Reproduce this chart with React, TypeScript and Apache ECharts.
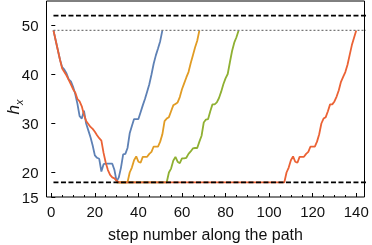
import { useEffect, useRef } from 'react';
import * as echarts from 'echarts';

// step number -> h_x
const bluePath: [number, number][] = [
  [1, 49], [2, 47], [3, 45], [4, 43], [5, 41.5], [6, 41], [7, 40.2], [8, 39], [9, 38.6], [10, 37.5],
  [11, 36], [12, 34], [13, 31.5], [14, 31], [15, 32.6], [16, 30], [17, 28.6], [18, 27.2], [19, 25.5], [20, 23.5],
  [21, 23], [22, 22.8], [23, 20.2], [24, 21.7], [25, 21.8], [26, 21.8], [27, 21.8], [28, 21.8], [29, 20.5], [30, 18.2],
  [31, 19], [32, 21], [33, 23.7], [34, 23.8], [35, 25], [36, 28], [37, 29.5], [38, 30.9], [39, 30.9], [40, 30.9],
  [41, 32.3], [42, 33.7], [43, 35], [44, 36.5], [45, 38], [46, 40], [47, 42.2], [48, 43.9], [49, 45.3], [50, 46.8], [51, 49],
];

const orangePath: [number, number][] = [
  [30, 18], [35, 18], [36, 20], [37, 21], [38, 22.5], [39, 23.3], [40, 22.2], [41, 22], [42, 23.2], [43, 23.2],
  [44, 23.2], [45, 23.8], [46, 24.2], [47, 25.3], [48, 25.3], [49, 25.3], [50, 26.3], [51, 27.8], [52, 30.5], [53, 31],
  [54, 31.3], [55, 32.5], [56, 33.7], [57, 34], [58, 34.3], [59, 35.4], [60, 37], [61, 38.2], [62, 39.4], [63, 40.5],
  [64, 42.3], [65, 43.9], [66, 45.5], [67, 46.9], [68, 49],
];

const greenPath: [number, number][] = [
  [30, 18], [53, 18], [54, 20], [55, 20.8], [56, 22.4], [57, 23.2], [58, 22.2], [59, 21.9], [60, 22.9], [61, 22.9],
  [62, 23], [63, 23.8], [64, 24.3], [65, 24.9], [66, 25], [67, 25], [68, 26.3], [69, 27.5], [70, 30.2], [71, 30.8],
  [72, 30.9], [73, 32.5], [74, 33.9], [75, 33.9], [76, 34.3], [77, 35.2], [78, 36.5], [79, 38], [80, 39.2], [81, 40.1],
  [82, 42.5], [83, 44.8], [84, 46.5], [85, 47.6], [86, 49],
];

const redPath: [number, number][] = [
  [1, 49], [2, 47], [3, 45], [4, 43], [5, 41.2], [6, 40.5], [7, 39.8], [8, 38.9], [9, 38], [10, 37],
  [11, 36.3], [12, 35], [13, 34.5], [14, 33.5], [15, 31.8], [16, 30.5], [17, 29.9], [18, 29.3], [19, 28.9], [20, 28.3],
  [21, 27.6], [22, 27], [23, 26.5], [24, 24], [25, 22], [26, 20.5], [27, 19.5], [28, 19], [29, 18.8], [30, 18.3],
  [31, 18], [107, 18], [108, 20], [109, 21], [110, 22.5], [111, 23.3], [112, 22.2], [113, 22], [114, 23.2], [115, 23.2],
  [116, 23.2], [117, 23.8], [118, 24.2], [119, 25.3], [120, 25.3], [121, 25.3], [122, 26.3], [123, 27.8], [124, 30], [125, 31],
  [126, 31.3], [127, 32.5], [128, 33.9], [129, 33.9], [130, 34.5], [131, 35.5], [132, 36.8], [133, 38.5], [134, 39.5], [135, 40.5],
  [136, 42], [137, 44], [138, 46], [139, 47.5], [140, 49],
];

const upperBound = 52;
const lowerBound = 18;
const startLevel = 49;
const boundSpan = [1, 150];

const xMajorTicks = [0, 20, 40, 60, 80, 100, 120, 140];
const xMinorTicks = [0, 5, 10, 15, 20, 25, 30, 35, 40, 45, 50, 55, 60, 65, 70, 75, 80, 85, 90, 95, 100, 105, 110, 115, 120, 125, 130, 135, 140];
const yTicks = [15, 20, 30, 40, 50];

const colors = { blue: '#5E81B5', orange: '#E19C24', green: '#8FB032', red: '#EB6235' };
const FONT = '"Liberation Sans", Arial, sans-serif';

export default function App() {
  const ref = useRef<HTMLDivElement>(null);
  useEffect(() => {
    if (!ref.current) return;
    const chart = echarts.init(ref.current, undefined, { renderer: 'svg' });
    const X_MIN = -2.2;
    const X_MAX = 143.8;
    const dataLine = (data: [number, number][], color: string) => ({
      type: 'line',
      data,
      showSymbol: false,
      symbol: 'none',
      lineStyle: { color, width: 1.8 },
      clip: true,
    });
    const hLine = (y: number, color: string, width: number, type: number[]) => ({
      type: 'line',
      data: boundSpan.map((x) => [x, y]),
      showSymbol: false,
      symbol: 'none',
      lineStyle: { color, width, type },
      clip: true,
      z: 5,
    });
    chart.setOption({
      animation: false,
      grid: {
        left: 46.5,
        right: 7.5,
        top: 1,
        bottom: 48,
        show: true,
        borderColor: '#000',
        borderWidth: 1,
        containLabel: false,
        outerBoundsMode: 'none',
      },
      xAxis: [
        {
          type: 'value',
          min: X_MIN,
          max: X_MAX,
          position: 'bottom',
          axisLine: { show: false },
          splitLine: { show: false },
          axisTick: { show: true, inside: true, length: 4, customValues: xMajorTicks, lineStyle: { color: '#000', width: 1 } },
          axisLabel: { customValues: xMajorTicks, margin: 7, color: '#111', fontSize: 15, fontFamily: FONT },
          name: 'step number along the path',
          nameLocation: 'middle',
          nameGap: 29,
          nameMoveOverlap: false,
          nameTextStyle: { fontSize: 16, color: '#111', fontFamily: FONT },
        },
        {
          type: 'value',
          min: X_MIN,
          max: X_MAX,
          position: 'bottom',
          axisLine: { show: false },
          splitLine: { show: false },
          axisTick: { show: true, inside: true, length: 2, customValues: xMinorTicks, lineStyle: { color: '#000', width: 1 } },
          axisLabel: { show: false },
        },
      ],
      yAxis: {
        type: 'value',
        min: 15,
        max: 55,
        axisLine: { show: false },
        splitLine: { show: false },
        axisTick: { show: true, inside: true, length: 4, customValues: yTicks, lineStyle: { color: '#000', width: 1 } },
        axisLabel: { customValues: yTicks, margin: 8, color: '#111', fontSize: 15, fontFamily: FONT },
        name: '{h|h}{s|x}',
        nameLocation: 'middle',
        nameGap: 22,
        nameRotate: 90,
        nameMoveOverlap: false,
        nameTextStyle: {
          padding: [0, 16, 0, 0],
          rich: {
            h: { fontSize: 17, fontStyle: 'italic', fontFamily: FONT, color: '#111', lineHeight: 22 },
            s: { fontSize: 11, fontStyle: 'italic', fontFamily: FONT, color: '#111', verticalAlign: 'bottom', lineHeight: 13 },
          },
        },
      },
      series: [
        dataLine(bluePath, colors.blue),
        dataLine(orangePath, colors.orange),
        dataLine(greenPath, colors.green),
        dataLine(redPath, colors.red),
        hLine(upperBound, '#000', 1.8, [5, 2.5]),
        hLine(lowerBound, '#000', 1.8, [5, 2.5]),
        hLine(startLevel, '#777', 1.2, [2, 2]),
      ],
    });
    return () => chart.dispose();
  }, []);
  return <div ref={ref} style={{ position: 'fixed', left: 0, top: 0, width: 372, height: 245 }} />;
}
